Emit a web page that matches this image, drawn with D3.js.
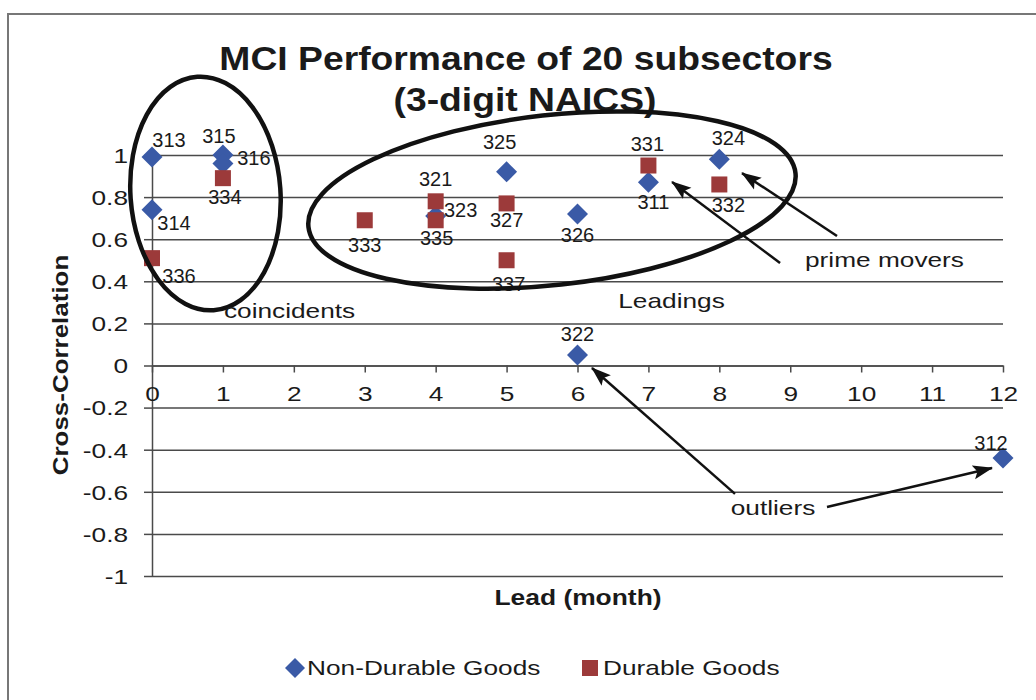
<!DOCTYPE html>
<html>
<head>
<meta charset="utf-8">
<script src="https://cdn.jsdelivr.net/npm/d3@7"></script>
<style>
    body { margin: 0; background: #fff; }
    text { font-family: "Liberation Sans", Arial, sans-serif; fill: #1a1a1a; }
</style>
</head>
<body>
<script>

// series: lead (months) and cross-correlation, one entry per subsector
var nonDurableCodes = ["313", "314", "315", "316", "323", "325", "326", "311", "324", "322", "312"];
var nonDurableLead  = [0, 0, 1, 1, 4, 5, 6, 7, 8, 6, 12];
var nonDurableCorr  = [0.99, 0.74, 1.0, 0.96, 0.71, 0.92, 0.72, 0.87, 0.98, 0.05, -0.44];

var durableCodes = ["336", "334", "333", "321", "335", "327", "337", "331", "332"];
var durableLead  = [0, 1, 3, 4, 4, 5, 5, 7, 8];
var durableCorr  = [0.51, 0.89, 0.69, 0.78, 0.69, 0.77, 0.50, 0.95, 0.86];

var xTicks = [0, 1, 2, 3, 4, 5, 6, 7, 8, 9, 10, 11, 12];
var yTickLabels = ["-1", "-0.8", "-0.6", "-0.4", "-0.2", "0", "0.2", "0.4", "0.6", "0.8", "1"];

var seriesNames = ["Non-Durable Goods", "Durable Goods"];

// label placement (pixels from the marker), same order as the codes
var nonDurableLabelPos = [[17, -17], [22, 13], [-4, -19], [31, -5], [25, -6], [-7, -30], [0, 21], [5, 20], [9, -21], [0, -21], [-12, -15]];
var durableLabelPos = [[27, 18], [2, 19], [0, 25], [0, -22], [1, 18], [0, 17], [2, 24], [-1, -22], [9, 21]];

function setupSvg() {

    var width = 1036;
    var height = 700;
    var svg = d3.select("body")
        .append("svg")
        .attr("width", width)
        .attr("height", height);

    var blue = "#3a5aa6";
    var red = "#9c3a3a";
    var gridColor = "#4a4a4a";
    var sx = 1.25;   // the scanned text is wider than plain Arial

    var x = d3.scaleLinear().domain([0, 12]).range([152, 1003]);
    var y = d3.scaleLinear().domain([-1, 1]).range([576, 155]);
    var yTicks = yTickLabels.map(function(d) { return +d; });

    // outer frame
    svg.append("path")
        .attr("d", "M8,700 L8,14 L1036,14")
        .attr("fill", "none")
        .attr("stroke", "#777")
        .attr("stroke-width", 2);

    // title
    var title = svg.append("g");
    title.append("text")
        .attr("transform", "translate(526,70) scale(1.13,1)")
        .attr("text-anchor", "middle")
        .style("font-size", "33px")
        .style("font-weight", "bold")
        .text("MCI Performance of 20 subsectors");
    title.append("text")
        .attr("transform", "translate(525,111) scale(1.13,1)")
        .attr("text-anchor", "middle")
        .style("font-size", "33px")
        .style("font-weight", "bold")
        .text("(3-digit NAICS)");

    // gridlines
    svg.append("g")
        .attr("transform", "translate(" + x(0) + ",0)")
        .call(d3.axisRight(y).tickValues(yTicks).tickSize(x(12) - x(0)).tickFormat(""))
        .call(function(g) { g.select(".domain").remove(); })
        .selectAll("line")
        .attr("stroke", gridColor)
        .attr("stroke-width", 1.5);

    // y axis
    var yAxis = svg.append("g")
        .attr("transform", "translate(" + x(0) + ",0)")
        .call(d3.axisLeft(y).tickValues(yTicks).tickSize(8).tickSizeOuter(0)
            .tickFormat(function(d, i) { return yTickLabels[i]; }));
    yAxis.selectAll("line, path").attr("stroke", gridColor).attr("stroke-width", 1.5);
    yAxis.selectAll("text")
        .attr("x", -24 / sx)
        .attr("dy", "0.35em")
        .attr("transform", "scale(" + sx + ",1)")
        .attr("fill", "#1a1a1a")
        .style("font-size", "21px")
        .style("font-family", "'Liberation Sans', Arial, sans-serif");

    // x axis crosses at zero
    var xAxis = svg.append("g")
        .attr("transform", "translate(0," + y(0) + ")")
        .call(d3.axisBottom(x).tickValues(xTicks).tickSize(7).tickSizeOuter(0).tickPadding(14));
    xAxis.selectAll("line, path").attr("stroke", gridColor).attr("stroke-width", 1.5);
    xAxis.selectAll("text")
        .attr("transform", "scale(" + sx + ",1)")
        .attr("fill", "#1a1a1a")
        .style("font-size", "21px")
        .style("font-family", "'Liberation Sans', Arial, sans-serif");

    // axis titles
    svg.append("text")
        .attr("transform", "translate(68,365) rotate(-90) scale(1.18,1)")
        .attr("text-anchor", "middle")
        .style("font-size", "22px")
        .style("font-weight", "bold")
        .text("Cross-Correlation");

    svg.append("text")
        .attr("transform", "translate(578,605) scale(1.2,1)")
        .attr("text-anchor", "middle")
        .style("font-size", "22px")
        .style("font-weight", "bold")
        .text("Lead (month)");

    // points
    var nonDurable = nonDurableCodes.map(function(c, i) {
        return { code: c, lead: nonDurableLead[i], corr: nonDurableCorr[i], pos: nonDurableLabelPos[i] };
    });
    var durable = durableCodes.map(function(c, i) {
        return { code: c, lead: durableLead[i], corr: durableCorr[i], pos: durableLabelPos[i] };
    });

    var diamond = d3.symbol().type(d3.symbolDiamond2).size(200);

    svg.append("g")
        .selectAll("path")
        .data(nonDurable)
        .enter().append("path")
        .attr("d", "M0,-10.5L10.5,0L0,10.5L-10.5,0Z")
        .attr("transform", function(d) { return "translate(" + x(d.lead) + "," + y(d.corr) + ")"; })
        .attr("fill", blue);

    svg.append("g")
        .selectAll("rect")
        .data(durable)
        .enter().append("rect")
        .attr("x", function(d) { return x(d.lead) - 8; })
        .attr("y", function(d) { return y(d.corr) - 8; })
        .attr("width", 16)
        .attr("height", 16)
        .attr("fill", red);

    // data labels
    svg.append("g")
        .selectAll("text")
        .data(nonDurable.concat(durable))
        .enter().append("text")
        .attr("x", function(d) { return x(d.lead) + d.pos[0]; })
        .attr("y", function(d) { return y(d.corr) + d.pos[1]; })
        .attr("dy", "0.35em")
        .attr("text-anchor", "middle")
        .style("font-size", "20px")
        .text(function(d) { return d.code; });

    // hand-drawn annotations
    svg.append("defs").append("marker")
        .attr("id", "head")
        .attr("markerUnits", "userSpaceOnUse")
        .attr("markerWidth", 20)
        .attr("markerHeight", 16)
        .attr("refX", 19)
        .attr("refY", 8)
        .attr("orient", "auto")
        .append("path")
        .attr("d", "M0,1 L20,8 L0,15 L4,8 Z")
        .attr("fill", "#111");

    var ann = svg.append("g");

    ann.append("ellipse")
        .attr("transform", "translate(" + x(0.754) + "," + y(0.817) + ") rotate(-4)")
        .attr("rx", 75)
        .attr("ry", 117)
        .attr("fill", "none")
        .attr("stroke", "#111")
        .attr("stroke-width", 4.5);

    ann.append("ellipse")
        .attr("transform", "translate(" + x(5.64) + "," + y(0.786) + ") rotate(-6.3)")
        .attr("rx", 245)
        .attr("ry", 85)
        .attr("fill", "none")
        .attr("stroke", "#111")
        .attr("stroke-width", 4.5);

    var arrows = [
        [8.856, 0.487, 7.333, 0.872],
        [9.659, 0.615, 8.320, 0.914],
        [8.221, -0.610, 6.204, -0.012],
        [9.518, -0.672, 11.845, -0.487]
    ];
    ann.selectAll("line.arrow")
        .data(arrows)
        .enter().append("line")
        .attr("class", "arrow")
        .attr("x1", function(d) { return x(d[0]); })
        .attr("y1", function(d) { return y(d[1]); })
        .attr("x2", function(d) { return x(d[2]); })
        .attr("y2", function(d) { return y(d[3]); })
        .attr("stroke", "#111")
        .attr("stroke-width", 2.5)
        .attr("marker-end", "url(#head)");

    var notes = [
        ["coincidents", 1.94, 0.259],
        ["Leadings", 7.326, 0.306],
        ["prime movers", 10.329, 0.501],
        ["outliers", 8.757, -0.677]
    ];
    ann.selectAll("text")
        .data(notes)
        .enter().append("text")
        .attr("transform", function(d) { return "translate(" + x(d[1]) + "," + y(d[2]) + ") scale(" + sx + ",1)"; })
        .attr("dy", "0.35em")
        .attr("text-anchor", "middle")
        .style("font-size", "21px")
        .text(function(d) { return d[0]; });

    // legend
    var legend = svg.append("g");
    legend.append("path")
        .attr("d", "M295,658 L305,668 L295,678 L285,668 Z")
        .attr("fill", blue);
    legend.append("text")
        .attr("transform", "translate(307,668) scale(" + sx + ",1)")
        .attr("dy", "0.35em")
        .style("font-size", "21px")
        .text(seriesNames[0]);
    legend.append("rect")
        .attr("x", 582)
        .attr("y", 660)
        .attr("width", 16)
        .attr("height", 16)
        .attr("fill", red);
    legend.append("text")
        .attr("transform", "translate(603,668) scale(" + sx + ",1)")
        .attr("dy", "0.35em")
        .style("font-size", "21px")
        .text(seriesNames[1]);
}

setupSvg();
</script>
</body>
</html>
